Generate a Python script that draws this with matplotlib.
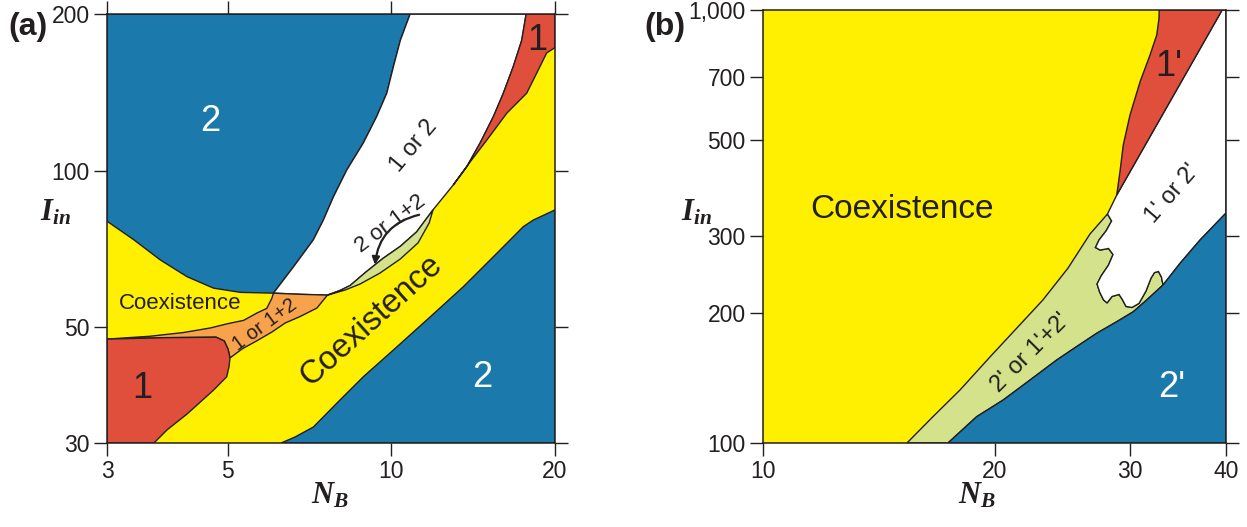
import matplotlib
matplotlib.use('Agg')
import matplotlib.pyplot as plt
from matplotlib.ticker import FixedLocator, FixedFormatter, NullLocator

plt.rcParams['font.family'] = ['Liberation Sans', 'DejaVu Sans']
plt.rcParams['mathtext.fontset'] = 'custom'
plt.rcParams['mathtext.it'] = 'Liberation Serif:italic:bold'
plt.rcParams['mathtext.rm'] = 'Liberation Serif:bold'

BLUE = '#1b79ab'
YELLOW = '#ffef00'
RED = '#e04f3c'
ORANGE = '#f8a24b'
GREEN = '#d3e28b'
WHITE = '#ffffff'
EDGE = '#231f20'
TXT = '#231f20'

# ---------------- panel (a) data (N_B, I_in) ----------------
a_xticks = [3, 5, 10, 20]
a_xticklabels = ['3', '5', '10', '20']
a_yticks = [30, 50, 100, 200]
a_yticklabels = ['30', '50', '100', '200']

# blue "2" (top-left) / small coexistence boundary
a_by_x = [3.0, 3.36, 3.76, 4.21, 4.71, 5.28, 6.07]
a_by_y = [80.0, 73.7, 67.4, 62.6, 59.5, 58.4, 58.2]
# blue "2" / white boundary (from junction up to top)
a_bw_x = [6.07, 6.61, 7.19, 7.5, 7.83, 8.28, 8.88, 9.4, 9.81, 10.09, 10.39, 10.83]
a_bw_y = [58.2, 65.4, 73.7, 80.4, 89.2, 100.3, 113.0, 127.1, 140.9, 158.5, 178.0, 200.0]
# lower boundary of the white "1 or 2" region
a_wb_x = [6.07, 6.8, 7.63, 8.05, 8.4, 8.98, 9.66, 10.39, 11.13, 11.93, 13.0]
a_wb_y = [58.2, 57.9, 57.7, 58.9, 60.2, 63.9, 67.9, 71.6, 76.3, 84.1, 93.9]
# top-right red "1": boundary with white and with yellow
a_rw_x = [13.0, 13.77, 14.56, 15.41, 16.07, 16.76, 17.37, 17.7]
a_rw_y = [93.9, 101.9, 113.0, 127.1, 140.9, 158.5, 178.0, 200.0]
a_ry_x = [13.0, 14.06, 15.0, 16.31, 17.74, 18.51, 19.31, 20.0]
a_ry_y = [93.9, 105.0, 114.7, 129.0, 140.9, 154.0, 168.4, 172.4]
# green "2 or 1+2" sliver lower boundary (from tip back to start)
a_gl_x = [11.74, 11.2, 10.39, 9.53, 8.76, 8.22]
a_gl_y = [79.4, 72.7, 67.7, 63.6, 60.6, 59.0]
# orange "1 or 1+2": upper boundary and lower boundary
a_ou_x = [3.0, 3.6, 4.15, 4.65, 4.98, 5.35, 5.66, 5.9, 6.03, 6.07]
a_ou_y = [47.5, 48.1, 48.9, 49.9, 50.8, 51.6, 53.3, 54.4, 56.9, 58.2]
a_ol_x = [7.63, 7.3, 6.8, 6.38, 6.03, 5.65, 5.32, 5.05]
a_ol_y = [57.7, 54.5, 52.5, 51.0, 49.0, 47.1, 45.5, 43.7]
# bottom-left red "1" outline (clockwise from top-left)
a_rb_x = [3.0, 3.87, 4.76, 4.93, 5.01, 5.05, 5.03, 4.98, 4.71, 4.21, 3.87, 3.66, 3.0]
a_rb_y = [47.5, 47.8, 47.9, 47.1, 45.4, 43.7, 42.05, 40.2, 37.9, 34.1, 31.8, 30.0, 30.0]
# bottom-right blue "2" boundary
a_bb_x = [6.27, 6.65, 7.19, 8.05, 8.88, 10.24, 11.79, 13.57, 15.63, 17.49, 18.24, 20.0]
a_bb_y = [30.0, 30.8, 32.2, 36.3, 40.2, 45.9, 52.4, 59.9, 69.4, 78.1, 80.4, 84.1]
# arrow for "2 or 1+2"
a_arrow_start = (11.25, 82.3)
a_arrow_tip = (9.33, 66.0)

# ---------------- panel (b) data ----------------
b_xticks = [10, 20, 30, 40]
b_xticklabels = ['10', '20', '30', '40']
b_yticks = [100, 200, 300, 500, 700, 1000]
b_yticklabels = ['100', '200', '300', '500', '700', '1,000']

b_yg_x = [15.39, 16.64, 18.04, 19.73, 21.33, 23.12, 24.93, 26.62, 27.76, 28.05]
b_yg_y = [100, 115.1, 132.6, 158.0, 183.4, 214.0, 253.6, 303.9, 330.8, 337.9]
b_ry_x = [28.84, 29.12, 29.41, 30.01, 30.93, 31.86, 32.51, 32.73, 32.75]
b_ry_y = [373.9, 423.2, 487.9, 572.4, 683.2, 787.0, 875.7, 956.8, 1000]
b_rw_x = [28.84, 39.54]
b_rw_y = [373.9, 1000]
b_wv_x = [28.05, 28.4, 27.93, 27.35, 27.06, 27.44, 28.14, 28.52, 28.14, 27.52, 27.19,
          27.4, 27.72, 28.02, 28.44, 29.04, 29.35, 29.65, 30.19, 30.83, 31.48, 31.96,
          32.29, 32.68, 32.97, 33.13]
b_wv_y = [337.9, 325.6, 308.8, 294.3, 282.8, 279.0, 281.3, 272.4, 257.7, 243.0, 232.9,
          223.2, 214.0, 210.6, 218.0, 220.3, 214.0, 206.7, 205.6, 210.1, 224.4, 240.4,
          247.5, 248.9, 241.7, 231.7]
b_bw_x = [40.0, 37.01, 34.86, 33.13, 31.55, 30.31, 28.84, 27.16, 25.57, 24.1, 22.25,
          20.53, 18.96, 17.4]
b_bw_y = [339.7, 294.3, 260.0, 231.7, 214.0, 201.0, 190.6, 179.2, 166.9, 155.5, 139.8,
          125.7, 115.0, 100]

# ---------------- figure ----------------
W, H = 1247, 527
fig = plt.figure(figsize=(W / 100, H / 100), dpi=100)
ax_a = fig.add_axes([107 / W, (H - 443) / H, 448 / W, 429 / H])
ax_b = fig.add_axes([763 / W, (H - 443) / H, 463 / W, 433 / H])


def setup(ax, xlim, ylim, xt, xtl, yt, ytl, top):
    ax.set_xscale('log')
    ax.set_yscale('log')
    ax.set_xlim(*xlim)
    ax.set_ylim(*ylim)
    ax.set_facecolor(YELLOW)
    ax.xaxis.set_major_locator(FixedLocator(xt))
    ax.xaxis.set_major_formatter(FixedFormatter(xtl))
    ax.yaxis.set_major_locator(FixedLocator(yt))
    ax.yaxis.set_major_formatter(FixedFormatter(ytl))
    ax.xaxis.set_minor_locator(NullLocator())
    ax.yaxis.set_minor_locator(NullLocator())
    ax.tick_params(which='major', direction='out', length=9.5, width=1.0, pad=3,
                   labelsize=16.5, colors=EDGE, labelcolor=TXT,
                   top=top, right=True, labeltop=False, labelright=False)
    for s in ax.spines.values():
        s.set_linewidth(1.1)
        s.set_color(EDGE)


def poly(ax, xs, ys, color):
    ax.fill(xs, ys, facecolor=color, edgecolor=EDGE, linewidth=1.0, zorder=1)


setup(ax_a, (3, 20), (30, 200), a_xticks, a_xticklabels, a_yticks, a_yticklabels, True)
setup(ax_b, (10, 40), (100, 1000), b_xticks, b_xticklabels, b_yticks, b_yticklabels, False)

# panel (a) regions
poly(ax_a, [3.0] + a_by_x + a_bw_x[1:] + [3.0], [200.0] + a_by_y + a_bw_y[1:] + [200.0], BLUE)
poly(ax_a, a_bw_x[::-1] + a_wb_x[1:] + a_rw_x[1:],
     a_bw_y[::-1] + a_wb_y[1:] + a_rw_y[1:], WHITE)
poly(ax_a, a_rw_x + [20.0] + a_ry_x[::-1], a_rw_y + [200.0] + a_ry_y[::-1], RED)
poly(ax_a, a_wb_x[2:10] + a_gl_x, a_wb_y[2:10] + a_gl_y, GREEN)
poly(ax_a, a_ou_x + a_wb_x[1:3] + a_ol_x[1:] + a_rb_x[4:0:-1],
     a_ou_y + a_wb_y[1:3] + a_ol_y[1:] + a_rb_y[4:0:-1], ORANGE)
poly(ax_a, a_rb_x, a_rb_y, RED)
poly(ax_a, a_bb_x + [20.0], a_bb_y + [30.0], BLUE)

ax_a.annotate('', xy=a_arrow_tip, xytext=a_arrow_start,
              arrowprops=dict(arrowstyle='-|>', color=EDGE, lw=1.6, mutation_scale=11,
                              shrinkA=0, shrinkB=0, connectionstyle='arc3,rad=0.35'),
              zorder=3)

fs_big = 26
ax_a.text(4.65, 124.1, '2', color='white', fontsize=fs_big, ha='center', va='center')
ax_a.text(18.57, 178, '1', color=TXT, fontsize=fs_big, ha='center', va='center')
ax_a.text(3.48, 38.1, '1', color=TXT, fontsize=fs_big, ha='center', va='center')
ax_a.text(14.72, 40.1, '2', color='white', fontsize=fs_big, ha='center', va='center')
ax_a.text(4.09, 55.5, 'Coexistence', color=TXT, fontsize=16, ha='center', va='center')
ax_a.text(9.2, 51.6, 'Coexistence', color=TXT, fontsize=23.5, ha='center', va='center',
          rotation=42, rotation_mode='anchor')
ax_a.text(11.02, 111.7, '1 or 2', color=TXT, fontsize=17, ha='center', va='center',
          rotation=50, rotation_mode='anchor')
ax_a.text(9.95, 79.0, '2 or 1+2', color=TXT, fontsize=16, ha='center', va='center',
          rotation=37, rotation_mode='anchor')
ax_a.text(5.85, 50.6, '1 or 1+2', color=TXT, fontsize=14.5, ha='center', va='center',
          rotation=36, rotation_mode='anchor')

# panel (b) regions
poly(ax_b, b_yg_x + b_wv_x[1:] + b_bw_x[4:], b_yg_y + b_wv_y[1:] + b_bw_y[4:], GREEN)
poly(ax_b, [b_wv_x[0]] + b_rw_x + [40.0] + b_bw_x[:4] + b_wv_x[-2:0:-1],
     [b_wv_y[0]] + b_rw_y + [1000.0] + b_bw_y[:4] + b_wv_y[-2:0:-1], WHITE)
poly(ax_b, b_ry_x + b_rw_x[::-1], b_ry_y + b_rw_y[::-1], RED)
poly(ax_b, b_bw_x + [40.0], b_bw_y + [100.0], BLUE)

ax_b.text(15.16, 345.7, 'Coexistence', color=TXT, fontsize=24, ha='center', va='center')
ax_b.text(33.73, 739.8, "1'", color=TXT, fontsize=fs_big, ha='center', va='center')
ax_b.text(34.0, 134.4, "2'", color='white', fontsize=fs_big, ha='center', va='center')
ax_b.text(34.08, 377.3, "1' or 2'", color=TXT, fontsize=17, ha='center', va='center',
          rotation=49, rotation_mode='anchor')
ax_b.text(22.25, 161.1, "2' or 1'+2'", color=TXT, fontsize=17, ha='center', va='center',
          rotation=45, rotation_mode='anchor')

# panel letters and axis labels
fig.text(27.5 / W, 1 - 27.4 / H, '(a)', fontsize=23, fontweight='bold', color=TXT,
         ha='center', va='center')
fig.text(665 / W, 1 - 27 / H, '(b)', fontsize=23, fontweight='bold', color=TXT,
         ha='center', va='center')
fig.text(330 / W, 1 - 496 / H, r'$N_B$', fontsize=22, color=TXT, ha='center', va='center')
fig.text(977 / W, 1 - 496 / H, r'$N_B$', fontsize=22, color=TXT, ha='center', va='center')
fig.text(55.5 / W, 1 - 212 / H, r'$I_{in}$', fontsize=22, color=TXT, ha='center', va='center')
fig.text(696 / W, 1 - 212 / H, r'$I_{in}$', fontsize=22, color=TXT, ha='center', va='center')

fig.savefig('out.png', dpi=100)
